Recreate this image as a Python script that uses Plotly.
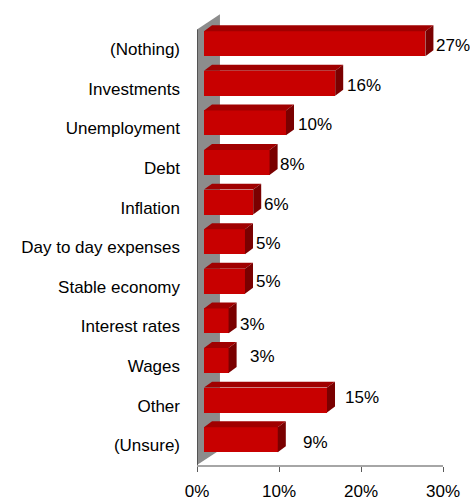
import plotly.graph_objects as go

categories = ["(Nothing)", "Investments", "Unemployment", "Debt", "Inflation",
              "Day to day expenses", "Stable economy", "Interest rates", "Wages",
              "Other", "(Unsure)"]
values = [27, 16, 10, 8, 6, 5, 5, 3, 3, 15, 9]
labels = ["27%", "16%", "10%", "8%", "6%", "5%", "5%", "3%", "3%", "15%", "9%"]
x_ticks = [0, 10, 20, 30]
x_tick_text = ["0%", "10%", "20%", "30%"]

# style constants (3D look)
BASE = 0.85        # front face starts slightly right of the wall
BAR_W = 0.63
FRONT_OFF = -0.14
DX = 0.98          # depth offset in x data units
DY = 0.15          # depth offset in category units
WALL_DX = 2.8
WALL_DY = 0.38
label_xshift = [1, 2, 2, 0, 1, 1, 1, 1, 11, 8, 15]
label_yshift = [4, 3, 4, 4, 3, 4, 5, 2, 10, 8, 3]

FRONT = "#C80000"
TOP = "#A00000"
SIDE = "#7A0000"
FONT = "Liberation Sans, Arial, sans-serif"

idx = list(range(len(categories)))
ypos = [i + FRONT_OFF for i in idx]

fig = go.Figure()
fig.add_trace(go.Bar(
    orientation="h", x=values, y=ypos, base=BASE, width=BAR_W,
    marker=dict(color=FRONT, line=dict(width=0)), hoverinfo="skip",
))

shapes = []
# back wall
shapes.append(dict(type="path", xref="x", yref="y", layer="below",
                   path=f"M 0,-0.5 L {WALL_DX},{-0.5 - WALL_DY} L {WALL_DX},{10.5 - WALL_DY} L 0,10.5 Z",
                   fillcolor="#8C8C8C", line=dict(width=0)))
for i, v in zip(idx, values):
    yt = i + FRONT_OFF - BAR_W / 2
    yb = i + FRONT_OFF + BAR_W / 2
    x0, x1 = BASE, BASE + v
    shapes.append(dict(type="path", xref="x", yref="y", layer="above",
                       path=f"M {x0},{yt} L {x1},{yt} L {x1 + DX},{yt - DY} L {x0 + DX},{yt - DY} Z",
                       fillcolor=TOP, line=dict(width=0)))
    shapes.append(dict(type="path", xref="x", yref="y", layer="above",
                       path=f"M {x1},{yt} L {x1 + DX},{yt - DY} L {x1 + DX},{yb - DY} L {x1},{yb} Z",
                       fillcolor=SIDE, line=dict(width=0)))
# y axis line (left edge of wall)
shapes.append(dict(type="line", xref="x", yref="y", x0=0, x1=0, y0=-0.5, y1=10.5,
                   line=dict(color="#404040", width=1.5), layer="above"))

annotations = []
for i, v, t, xs, ys in zip(idx, values, labels, label_xshift, label_yshift):
    annotations.append(dict(x=BASE + v + DX, y=i, xref="x", yref="y", text=t,
                            showarrow=False, xanchor="left", yanchor="middle",
                            xshift=xs, yshift=ys,
                            font=dict(family=FONT, size=17, color="#000")))

fig.update_layout(
    width=470, height=502,
    margin=dict(l=197, r=27, t=10, b=37, autoexpand=False),
    paper_bgcolor="white", plot_bgcolor="white",
    showlegend=False, bargap=0,
    shapes=shapes, annotations=annotations,
    font=dict(family=FONT, size=17, color="#000"),
    xaxis=dict(range=[0, 30], tickvals=x_ticks, ticktext=x_tick_text,
               showgrid=False, zeroline=False, showline=True, linecolor="#A6A6A6",
               linewidth=1.5, ticks="outside", ticklen=5, tickcolor="#595959",
               ticklabelstandoff=5, tickfont=dict(family=FONT, size=17, color="#000"),
               fixedrange=True, automargin=False),
    yaxis=dict(range=[10.5, -0.99], tickvals=idx, ticktext=categories,
               showgrid=False, zeroline=False, showline=False, ticks="",
               ticklabelstandoff=16, tickfont=dict(family=FONT, size=17, color="#000"),
               fixedrange=True, automargin=False),
    yaxis2=dict(overlaying="y", side="left", range=[10.5, -0.99],
                tickvals=[k - 0.5 for k in range(len(categories) + 1)],
                showticklabels=False, ticks="outside", ticklen=6, tickcolor="#404040",
                showgrid=False, zeroline=False, showline=False, fixedrange=True,
                automargin=False),
)

fig.write_html("out.html")
